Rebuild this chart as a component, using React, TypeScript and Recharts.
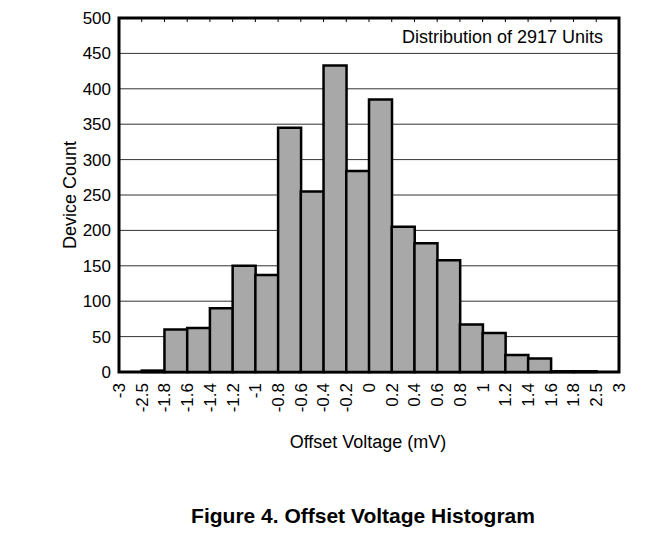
import { Bar, BarChart, CartesianGrid, ReferenceArea, XAxis, YAxis } from 'recharts';

// bin edges as printed under the axis (bins are not equal width, so they are drawn by index)
const edgeLabels = [
  '-3', '-2.5', '-1.8', '-1.6', '-1.4', '-1.2', '-1', '-0.8', '-0.6', '-0.4', '-0.2', '0',
  '0.2', '0.4', '0.6', '0.8', '1', '1.2', '1.4', '1.6', '1.8', '2.5', '3',
];

// device count in each bin between two consecutive edges
const binCounts = [0, 2, 60, 62, 90, 150, 137, 345, 255, 433, 284, 385, 205, 182, 158, 67, 55, 24, 19, 1, 1, 0];

const yTicks = [0, 50, 100, 150, 200, 250, 300, 350, 400, 450, 500];

const edgeTicks = edgeLabels.map((_, i) => i);
const data = binCounts.map((count, i) => ({ bin: i + 0.5, count }));

const font = '"Liberation Sans", Arial, Helvetica, sans-serif';

const EdgeTick = ({ x, y, payload }: any) => (
  <text
    x={x}
    y={y + 3}
    transform={`rotate(-90, ${x}, ${y + 3})`}
    textAnchor="end"
    dy="0.35em"
    fontSize={17}
    fontFamily={font}
    fill="#000"
  >
    {edgeLabels[payload.value]}
  </text>
);

export default function App() {
  return (
    <div
      style={{
        position: 'relative',
        margin: -8,
        width: 658,
        height: 535,
        background: '#fff',
        fontFamily: font,
        color: '#000',
      }}
    >
      <div style={{ position: 'absolute', left: 0, top: 5, width: 640, height: 2, background: '#000' }} />

      <BarChart
        width={658}
        height={460}
        data={data}
        barCategoryGap={0}
        barGap={0}
        margin={{ top: 18, right: 38, bottom: 0, left: 0 }}
      >
        <XAxis
          xAxisId="edges"
          dataKey="bin"
          type="number"
          domain={[0, 22]}
          allowDataOverflow
          ticks={edgeTicks}
          interval={0}
          height={88}
          tickLine={false}
          tick={<EdgeTick />}
          axisLine={false}
        />
        <XAxis xAxisId="bins" dataKey="bin" hide height={0} />
        <XAxis
          xAxisId="top"
          dataKey="bin"
          type="number"
          orientation="top"
          domain={[0, 22]}
          allowDataOverflow
          ticks={edgeTicks}
          interval={0}
          height={1}
          mirror
          tickSize={4}
          tickFormatter={() => ''}
          tickLine={{ stroke: '#000', strokeWidth: 1 }}
          axisLine={false}
        />
        <YAxis
          yAxisId="left"
          domain={[0, 500]}
          ticks={yTicks}
          interval={0}
          width={119}
          tickLine={false}
          tick={{ fontSize: 17, fontFamily: font, fill: '#000' }}
          axisLine={false}
        />
        <YAxis yAxisId="right" orientation="right" domain={[0, 500]} width={1} tick={false} tickLine={false} axisLine={false} />
        <CartesianGrid vertical={false} stroke="#333" xAxisId="bins" yAxisId="left" />
        <Bar
          xAxisId="bins"
          yAxisId="left"
          dataKey="count"
          fill="#a8a8a8"
          stroke="#000"
          strokeWidth={2.5}
          isAnimationActive={false}
        />
        {/* plot frame */}
        <ReferenceArea
          xAxisId="edges"
          yAxisId="left"
          x1={0}
          x2={22}
          y1={0}
          y2={500}
          fill="none"
          fillOpacity={0}
          stroke="#000"
          strokeWidth={3}
          ifOverflow="visible"
        />
      </BarChart>

      <div
        style={{
          position: 'absolute',
          right: 55,
          top: 28,
          fontSize: 18,
          lineHeight: 1,
          whiteSpace: 'nowrap',
        }}
      >
        Distribution of 2917 Units
      </div>

      <div
        style={{
          position: 'absolute',
          left: 70,
          top: 195,
          fontSize: 18,
          lineHeight: 1,
          whiteSpace: 'nowrap',
          transform: 'translate(-50%, -50%) rotate(-90deg)',
        }}
      >
        Device Count
      </div>

      <div
        style={{
          position: 'absolute',
          left: 368,
          top: 433,
          fontSize: 18,
          lineHeight: 1,
          whiteSpace: 'nowrap',
          transform: 'translateX(-50%)',
        }}
      >
        Offset Voltage (mV)
      </div>

      <div
        style={{
          position: 'absolute',
          left: 363,
          top: 505,
          fontSize: 21,
          fontWeight: 'bold',
          lineHeight: 1,
          whiteSpace: 'nowrap',
          transform: 'translateX(-50%)',
        }}
      >
        Figure 4. Offset Voltage Histogram
      </div>
    </div>
  );
}
